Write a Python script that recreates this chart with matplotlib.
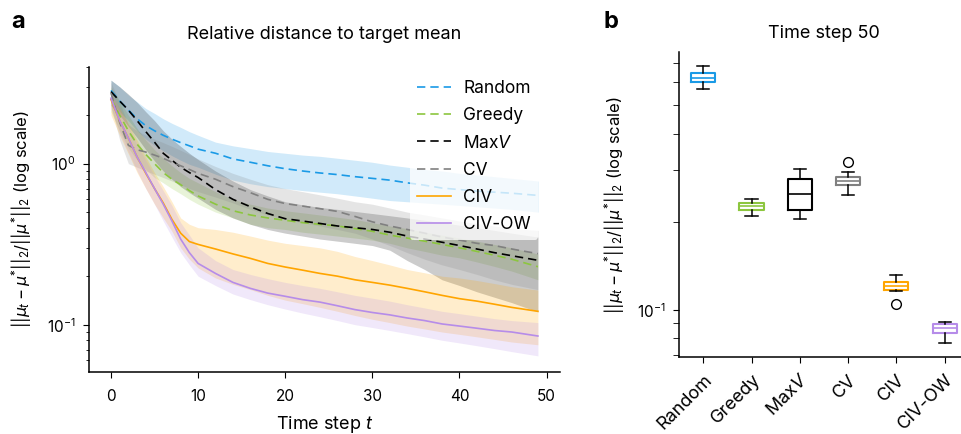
import numpy as np
import matplotlib
matplotlib.use("Agg")
import matplotlib.pyplot as plt
from matplotlib.ticker import NullFormatter

plt.rcParams['font.family'] = ['Inter', 'DejaVu Sans']
plt.rcParams['mathtext.fontset'] = 'custom'
plt.rcParams['mathtext.rm'] = 'Inter'
plt.rcParams['mathtext.it'] = 'Inter:italic'
plt.rcParams['axes.linewidth'] = 1.1

# ---- data: panel a (mean and band per method over time steps)
steps = [0, 1, 2, 3, 4, 5, 6, 7, 8, 9, 10, 12, 14, 16, 18, 20, 22, 24, 26, 28,
         30, 32, 34, 36, 38, 40, 42, 44, 46, 49]

random_mean = [2.85, 2.45, 2.15, 1.9, 1.72, 1.6, 1.5, 1.42, 1.35, 1.29, 1.23, 1.16, 1.07, 1.02, 0.97,
               0.93, 0.90, 0.875, 0.855, 0.83, 0.81, 0.79, 0.76, 0.735, 0.705, 0.69, 0.675, 0.665, 0.655, 0.635]
random_hi = [3.3, 3.0, 2.67, 2.42, 2.2, 2.05, 1.9, 1.78, 1.68, 1.58, 1.5, 1.36, 1.29, 1.24, 1.19,
             1.16, 1.13, 1.11, 1.08, 1.05, 1.02, 0.98, 0.95, 0.92, 0.9, 0.87, 0.85, 0.83, 0.81, 0.78]
random_lo = [2.45, 2.1, 1.85, 1.6, 1.42, 1.3, 1.2, 1.12, 1.05, 0.99, 0.95, 0.86, 0.79, 0.75, 0.72,
             0.70, 0.68, 0.665, 0.65, 0.63, 0.61, 0.59, 0.58, 0.57, 0.56, 0.55, 0.54, 0.53, 0.52, 0.50]

greedy_mean = [2.55, 2.0, 1.6, 1.32, 1.14, 1.0, 0.88, 0.8, 0.74, 0.68, 0.63, 0.56, 0.51, 0.48, 0.46,
               0.445, 0.43, 0.42, 0.41, 0.395, 0.38, 0.36, 0.345, 0.33, 0.315, 0.3, 0.285, 0.27, 0.255, 0.229]
greedy_hi = [3.0, 2.45, 2.0, 1.65, 1.4, 1.22, 1.08, 0.97, 0.88, 0.81, 0.76, 0.67, 0.6, 0.56, 0.53,
             0.51, 0.495, 0.48, 0.465, 0.45, 0.43, 0.41, 0.395, 0.375, 0.36, 0.345, 0.33, 0.315, 0.30, 0.275]
greedy_lo = [2.1, 1.6, 1.25, 1.05, 0.92, 0.82, 0.76, 0.70, 0.65, 0.60, 0.56, 0.5, 0.46, 0.42, 0.4,
             0.39, 0.375, 0.365, 0.355, 0.345, 0.335, 0.32, 0.3, 0.285, 0.27, 0.26, 0.245, 0.23, 0.215, 0.19]

maxv_mean = [2.8, 2.45, 2.15, 1.85, 1.58, 1.36, 1.16, 1.05, 0.95, 0.88, 0.82, 0.69, 0.6, 0.54, 0.49,
             0.455, 0.44, 0.425, 0.41, 0.40, 0.39, 0.375, 0.355, 0.34, 0.325, 0.31, 0.295, 0.28, 0.268, 0.251]
maxv_hi = [3.3, 3.0, 2.7, 2.4, 2.1, 1.85, 1.6, 1.42, 1.28, 1.16, 1.06, 0.9, 0.78, 0.69, 0.63,
           0.58, 0.555, 0.535, 0.52, 0.505, 0.49, 0.475, 0.46, 0.445, 0.43, 0.415, 0.4, 0.385, 0.37, 0.35]
maxv_lo = [2.3, 2.0, 1.7, 1.45, 1.22, 1.04, 0.9, 0.8, 0.72, 0.66, 0.61, 0.52, 0.46, 0.42, 0.39,
           0.37, 0.355, 0.34, 0.33, 0.32, 0.31, 0.29, 0.25, 0.22, 0.19, 0.175, 0.16, 0.148, 0.137, 0.12]

cv_mean = [2.75, 1.8, 1.3, 1.22, 1.18, 1.13, 1.08, 1.02, 0.97, 0.92, 0.87, 0.8, 0.72, 0.66, 0.6,
           0.565, 0.545, 0.525, 0.505, 0.47, 0.435, 0.41, 0.39, 0.37, 0.35, 0.335, 0.32, 0.31, 0.295, 0.276]
cv_hi = [3.2, 2.4, 1.75, 1.6, 1.5, 1.42, 1.35, 1.28, 1.21, 1.14, 1.07, 0.96, 0.87, 0.8, 0.74,
         0.7, 0.67, 0.64, 0.61, 0.58, 0.56, 0.53, 0.5, 0.48, 0.46, 0.44, 0.425, 0.41, 0.395, 0.385]
cv_lo = [2.3, 1.4, 1.0, 0.95, 0.9, 0.86, 0.82, 0.78, 0.74, 0.7, 0.67, 0.62, 0.57, 0.52, 0.48,
         0.45, 0.43, 0.41, 0.39, 0.37, 0.34, 0.31, 0.28, 0.255, 0.235, 0.22, 0.205, 0.19, 0.178, 0.165]

civ_mean = [2.5, 1.85, 1.44, 1.1, 0.87, 0.7, 0.57, 0.45, 0.37, 0.328, 0.315, 0.295, 0.275, 0.258, 0.24,
            0.228, 0.218, 0.208, 0.2, 0.19, 0.183, 0.176, 0.168, 0.16, 0.152, 0.145, 0.14, 0.134, 0.128, 0.121]
civ_hi = [2.75, 2.2, 1.75, 1.4, 1.1, 0.88, 0.72, 0.58, 0.46, 0.42, 0.4, 0.39, 0.375, 0.355, 0.335,
          0.32, 0.31, 0.3, 0.285, 0.265, 0.25, 0.235, 0.22, 0.21, 0.2, 0.195, 0.188, 0.18, 0.172, 0.164]
civ_lo = [2.0, 1.5, 1.15, 0.88, 0.7, 0.56, 0.46, 0.38, 0.3, 0.255, 0.225, 0.195, 0.178, 0.165, 0.152,
          0.142, 0.135, 0.128, 0.121, 0.114, 0.108, 0.103, 0.098, 0.094, 0.09, 0.087, 0.084, 0.081, 0.078, 0.075]

civow_mean = [2.55, 1.85, 1.44, 1.1, 0.88, 0.7, 0.56, 0.44, 0.34, 0.28, 0.24, 0.208, 0.183, 0.168, 0.157,
              0.15, 0.143, 0.138, 0.131, 0.124, 0.119, 0.115, 0.11, 0.106, 0.101, 0.098, 0.095, 0.092, 0.09, 0.085]
civow_hi = [2.8, 2.15, 1.7, 1.32, 1.05, 0.84, 0.68, 0.55, 0.43, 0.36, 0.3, 0.25, 0.22, 0.205, 0.193,
            0.183, 0.175, 0.168, 0.16, 0.152, 0.146, 0.14, 0.133, 0.127, 0.121, 0.117, 0.113, 0.109, 0.106, 0.103]
civow_lo = [2.2, 1.55, 1.18, 0.9, 0.7, 0.56, 0.44, 0.35, 0.28, 0.235, 0.2, 0.175, 0.155, 0.143, 0.133,
            0.125, 0.118, 0.112, 0.106, 0.1, 0.096, 0.092, 0.088, 0.084, 0.08, 0.077, 0.074, 0.071, 0.068, 0.064]

# ---- data: panel b (box stats at time step 50)
methods = ["Random", "Greedy", "Max$V$", "CV", "CIV", "CIV-OW"]
box_whislo = [0.570, 0.209, 0.205, 0.2465, 0.116, 0.0767]
box_q1 = [0.603, 0.2194, 0.219, 0.268, 0.117, 0.0834]
box_med = [0.623, 0.226, 0.248, 0.276, 0.1206, 0.0864]
box_q3 = [0.645, 0.232, 0.279, 0.2855, 0.124, 0.0891]
box_whishi = [0.684, 0.239, 0.304, 0.297, 0.131, 0.0910]
box_fliers = [[], [], [], [0.320], [0.1043], []]

colors = ["#1a9ae6", "#8cc63e", "#000000", "#808080", "#ffa500", "#b68ce9"]
styles = [(0, (5, 3)), (0, (5, 3)), (0, (5, 3)), (0, (5, 3)), "-", "-"]

series = [
    (random_mean, random_lo, random_hi),
    (greedy_mean, greedy_lo, greedy_hi),
    (maxv_mean, maxv_lo, maxv_hi),
    (cv_mean, cv_lo, cv_hi),
    (civ_mean, civ_lo, civ_hi),
    (civow_mean, civow_lo, civow_hi),
]

ylab = "$||\\mu_t-\\mu^{*}||_2/||\\mu^{*}||_2$ (log scale)"

fig = plt.figure(figsize=(9.61, 4.34), dpi=100)

# ---- panel a
ax = fig.add_axes([0.0928, 0.1422, 0.4896, 0.7041])
for (mean, lo, hi), c, ls, name in zip(series, colors, styles, methods):
    ax.fill_between(steps, lo, hi, color=c, alpha=0.2, linewidth=0)
    ax.plot(steps, mean, color=c, linestyle=ls, linewidth=1.2, label=name)

ax.set_yscale("log")
ax.set_xlim(-2.5, 51.5)
ax.set_ylim(0.0506, 4.0)
ax.set_xticks([0, 10, 20, 30, 40, 50])
ax.spines[['top', 'right']].set_visible(False)
ax.tick_params(labelsize=11, length=4)
ax.tick_params(axis='x', pad=8)
ax.tick_params(axis='y', pad=6)
ax.tick_params(which='minor', length=2.5)
ax.set_xlabel("Time step $t$", fontsize=13, labelpad=7)
ax.set_ylabel(ylab, fontsize=12, labelpad=10)
ax.set_title("Relative distance to target mean", fontsize=13, pad=20)
leg = ax.legend(loc="upper right", fontsize=12.5, handlelength=2.0, handletextpad=0.7,
                frameon=True, borderaxespad=0, labelspacing=0.58,
                bbox_to_anchor=(0.954, 0.978))
leg.get_frame().set_facecolor("white")
leg.get_frame().set_alpha(0.75)
leg.get_frame().set_edgecolor("none")

# ---- panel b
bx = fig.add_axes([0.7066, 0.1767, 0.3016, 0.7028])
stats = []
for i in range(len(methods)):
    stats.append(dict(med=box_med[i], q1=box_q1[i], q3=box_q3[i],
                      whislo=box_whislo[i], whishi=box_whishi[i], fliers=box_fliers[i]))
bp = bx.bxp(stats, positions=range(1, 7), widths=0.5, patch_artist=False,
            flierprops=dict(marker='o', markerfacecolor='none', markeredgecolor='black', markersize=7))
for i, c in enumerate(colors):
    bp['boxes'][i].set_color(c)
    bp['boxes'][i].set_linewidth(1.5)
    bp['medians'][i].set_color(c)
    bp['medians'][i].set_linewidth(1.2)
for w in bp['whiskers'] + bp['caps']:
    w.set_color('black')
    w.set_linewidth(1.1)

bx.set_yscale("log")
bx.set_ylim(0.0687, 0.76)
bx.set_xlim(0.5, 6.5)
bx.yaxis.set_minor_formatter(NullFormatter())
bx.spines[['top', 'right']].set_visible(False)
bx.set_xticks(range(1, 7))
bx.set_xticklabels(methods, rotation=45, ha='right', rotation_mode='anchor')
bx.tick_params(labelsize=11, length=4)
bx.tick_params(axis='y', pad=6)
bx.tick_params(axis='x', labelsize=13, pad=6)
bx.tick_params(which='minor', length=4)
bx.set_ylabel(ylab, fontsize=12, labelpad=8)
bx.set_title("Time step 50", fontsize=13, pad=10)

fig.text(0.012, 0.975, "a", fontsize=17, fontweight="bold", va="top")
fig.text(0.628, 0.975, "b", fontsize=17, fontweight="bold", va="top")

fig.savefig("out.png", dpi=100)
